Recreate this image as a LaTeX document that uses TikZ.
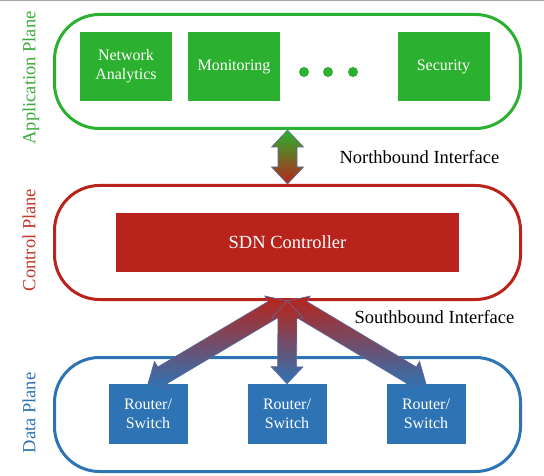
\documentclass[tikz,border=0pt]{standalone}
\usepackage{fontspec}
\setmainfont{Liberation Serif}
\usepackage{tikz}
\usetikzlibrary{calc,shapes,backgrounds}
\definecolor{AGreen}{HTML}{2BB02F}
\definecolor{AGreenText}{HTML}{3DAA3D}
\definecolor{CRed}{HTML}{B8241B}
\definecolor{CRedText}{HTML}{C0392B}
\definecolor{DBlue}{HTML}{2E74B5}
\definecolor{ArrowEdge}{HTML}{5A6C9E}
\tikzset{
    plane/.style = {draw, rounded corners=45pt, line width=3pt,
        minimum width=466pt,
        minimum height=114pt},
    block/.style = {text=white, align=center, inner sep=0pt,
        minimum width=92pt,
        minimum height=69pt,
        font=\fontsize{16}{19}\selectfont},
    lab/.style = {rotate=90, font=\fontsize{18.5}{22}\selectfont},
    iface/.style = {anchor=west, font=\fontsize{18.5}{22}\selectfont},
    dot/.style = {circle, fill=AGreen, inner sep=0pt, minimum size=10pt},
    fat/.style = {draw=ArrowEdge, line width=0.6pt}
}
\newcommand{\bigarrow}[3]{%
    \coordinate (h1) at ($(#2)!17pt!(#3)$);
    \coordinate (h2) at ($(#3)!17pt!(#2)$);
    \path[fat,#1] (#2) -- ($(h1)!16pt!90:(#3)$) -- ($(h1)!9.5pt!90:(#3)$)
        -- ($(h2)!9.5pt!-90:(#2)$) -- ($(h2)!16pt!-90:(#2)$) -- (#3)
        -- ($(h2)!16pt!90:(#2)$) -- ($(h2)!9.5pt!90:(#2)$)
        -- ($(h1)!9.5pt!-90:(#3)$) -- ($(h1)!16pt!-90:(#3)$) -- cycle;
}

\begin{document}
\begin{tikzpicture}[x=1pt,y=-1pt]
            \useasboundingbox (0,0) rectangle (544,476);
            \draw[gray!70,line width=1.5pt] (0,0.75) -- (544,0.75);
            \node[plane,draw=AGreen] (app) at (287.5,71.5) {};
            \node[plane,draw=CRed] (ctrl) at (287.5,242.5) {};
            \node[plane,draw=DBlue] (data) at (287.5,414.5) {};
            \node[lab,text=AGreenText] (applab) at (31,78) {Application Plane};
            \node[lab,text=CRedText] (ctrllab) at (29,240) {Control Plane};
            \node[lab,text=DBlue] (datalab) at (29,413) {Data Plane};
            \node[block,fill=AGreen] (net) at (126,66.5) {Network\\Analytics};
            \node[block,fill=AGreen] (mon) at (234,66.5) {Monitoring};
            \node[dot] (d1) at (304,72) {};
            \node[dot] (d2) at (328,72) {};
            \node[dot] (d3) at (353,72) {};
            \node[block,fill=AGreen] (sec) at (443.5,66.5) {Security};
            \node[block,fill=CRed,minimum width=343pt,minimum height=59pt,
                font=\fontsize{18.5}{22}\selectfont] (sdn) at (287.5,242.5) {SDN Controller};
            \node[block,fill=DBlue,minimum width=79pt,minimum height=60pt] (rs1) at (148,414) {Router/\\Switch};
            \node[block,fill=DBlue,minimum width=79pt,minimum height=60pt] (rs2) at (287,414) {Router/\\Switch};
            \node[block,fill=DBlue,minimum width=79pt,minimum height=60pt] (rs3) at (426,414) {Router/\\Switch};
            \node[iface] (nbi) at (336,157) {Northbound Interface};
            \node[iface] (sbi) at (351,317) {Southbound Interface};
            \bigarrow{top color=AGreen,bottom color=CRed}{app.south}{ctrl.north}
            \bigarrow{top color=CRed,bottom color=DBlue}{ctrl.south}{rs1.north}
            \bigarrow{top color=CRed,bottom color=DBlue}{ctrl.south}{rs3.north}
            \bigarrow{top color=CRed,bottom color=DBlue}{ctrl.south}{rs2.north}
        \end{tikzpicture}
\end{document}
